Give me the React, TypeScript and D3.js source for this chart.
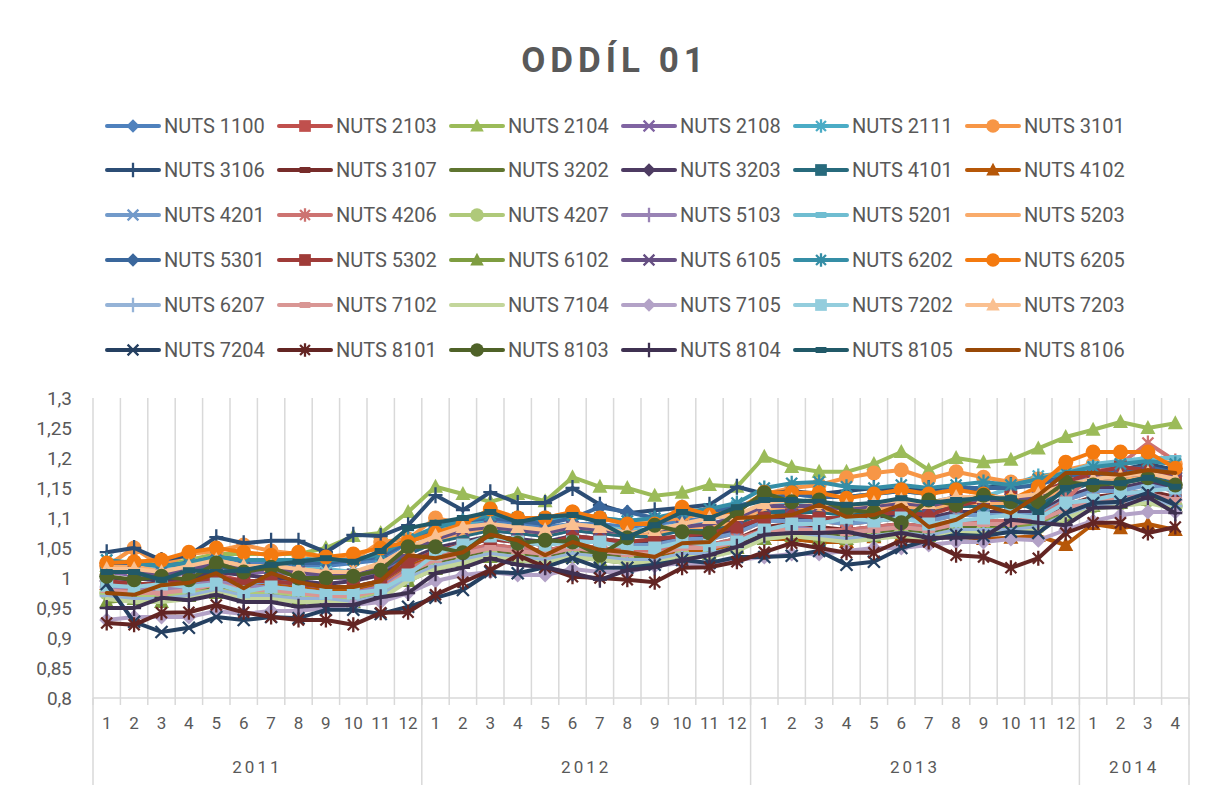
import React from "react";
import * as d3 from "d3";

// category axis
const monthTicks = ["1","2","3","4","5","6","7","8","9","10","11","12",
  "1","2","3","4","5","6","7","8","9","10","11","12",
  "1","2","3","4","5","6","7","8","9","10","11","12",
  "1","2","3","4"];
const yearLabels = ["2011", "2012", "2013", "2014"];
const yearMonths = [12, 12, 12, 4];
const yTicks = [0.8, 0.85, 0.9, 0.95, 1, 1.05, 1.1, 1.15, 1.2, 1.25, 1.3];

const seriesNames = [
  "NUTS 1100","NUTS 2103","NUTS 2104","NUTS 2108","NUTS 2111","NUTS 3101",
  "NUTS 3106","NUTS 3107","NUTS 3202","NUTS 3203","NUTS 4101","NUTS 4102",
  "NUTS 4201","NUTS 4206","NUTS 4207","NUTS 5103","NUTS 5201","NUTS 5203",
  "NUTS 5301","NUTS 5302","NUTS 6102","NUTS 6105","NUTS 6202","NUTS 6205",
  "NUTS 6207","NUTS 7102","NUTS 7104","NUTS 7105","NUTS 7202","NUTS 7203",
  "NUTS 7204","NUTS 8101","NUTS 8103","NUTS 8104","NUTS 8105","NUTS 8106",
];
const seriesColors = [
  "#4F81BD","#C0504D","#9BBB59","#8064A2","#4BACC6","#F79646",
  "#2C4D75","#772C2A","#5F7530","#4D3B62","#276A7C","#B65708",
  "#729ACA","#CD7371","#AFC97A","#9983B5","#6FBDD1","#F9AB6B",
  "#3A679C","#9F3B38","#7E9D40","#664F83","#358EA6","#F47A0F",
  "#95B3D7","#D99694","#C3D69B","#B3A2C7","#93CDDD","#FAC090",
  "#254061","#632523","#4F6228","#3F3151","#215968","#984807",
];
const seriesMarkers = [
  "diamond","square","triangle","x","star","circle",
  "plus","dash","none","diamond","square","triangle",
  "x","star","circle","plus","dash","none",
  "diamond","square","triangle","x","star","circle",
  "plus","dash","none","diamond","square","triangle",
  "x","star","circle","plus","dash","none",
];

const nuts1100 = [1.02,1.02,1.015,1.02,1.03,1.025,1.025,1.02,1.02,1.025,1.03,1.06, 1.08,1.09,1.095,1.09,1.085,1.09,1.09,1.085,1.09,1.095,1.1,1.105, 1.12,1.125,1.12,1.12,1.125,1.13,1.125,1.135,1.13,1.135,1.14,1.16, 1.17,1.175,1.18,1.17];
const nuts2103 = [1.0,0.99,0.99,0.995,1.005,0.995,0.995,0.99,0.985,0.985,0.995,1.025, 1.045,1.055,1.065,1.06,1.055,1.065,1.06,1.055,1.055,1.065,1.065,1.075, 1.095,1.1,1.095,1.09,1.095,1.1,1.095,1.105,1.105,1.105,1.11,1.13, 1.145,1.15,1.155,1.145];
const nuts2104 = [1.02,1.03,1.02,1.03,1.04,1.04,1.04,1.04,1.05,1.07,1.075,1.11, 1.152,1.14,1.127,1.14,1.128,1.168,1.152,1.15,1.137,1.142,1.155,1.152, 1.202,1.185,1.177,1.177,1.19,1.21,1.18,1.2,1.193,1.197,1.216,1.235, 1.247,1.26,1.25,1.258];
const nuts2108 = [1.01,1.005,1.0,1.01,1.02,1.01,1.01,1.005,1.0,1.0,1.01,1.04, 1.06,1.075,1.08,1.075,1.07,1.08,1.075,1.07,1.07,1.08,1.08,1.09, 1.11,1.115,1.11,1.11,1.115,1.12,1.115,1.12,1.125,1.12,1.125,1.145, 1.16,1.165,1.17,1.16];
const nuts2111 = [1.03,1.02,1.02,1.025,1.035,1.03,1.03,1.03,1.035,1.03,1.035,1.06, 1.08,1.09,1.1,1.1,1.095,1.1,1.1,1.095,1.1,1.105,1.11,1.12, 1.13,1.14,1.135,1.135,1.14,1.145,1.14,1.15,1.15,1.155,1.17,1.175, 1.185,1.19,1.195,1.19];
const nuts3101 = [1.02,1.05,1.02,1.04,1.045,1.055,1.045,1.04,1.035,1.03,1.06,1.065, 1.1,1.09,1.11,1.1,1.1,1.11,1.1,1.09,1.095,1.1,1.11,1.115, 1.14,1.15,1.155,1.167,1.175,1.18,1.165,1.177,1.168,1.16,1.165,1.18, 1.19,1.19,1.2,1.19];
const nuts3106 = [1.043,1.05,1.03,1.038,1.068,1.058,1.062,1.062,1.043,1.072,1.07,1.088, 1.138,1.113,1.143,1.125,1.125,1.15,1.122,1.108,1.113,1.117,1.122,1.152, 1.14,1.145,1.14,1.145,1.15,1.145,1.15,1.145,1.15,1.155,1.16,1.17, 1.175,1.18,1.19,1.18];
const nuts3107 = [0.985,0.98,0.98,0.985,0.995,0.985,0.985,0.98,0.975,0.975,0.985,1.015, 1.035,1.045,1.055,1.05,1.045,1.055,1.05,1.045,1.045,1.055,1.055,1.065, 1.085,1.09,1.085,1.08,1.085,1.09,1.085,1.095,1.095,1.095,1.1,1.12, 1.135,1.14,1.145,1.135];
const nuts3202 = [0.975,0.97,0.97,0.975,0.985,0.975,0.975,0.97,0.97,0.965,0.975,1.005, 1.025,1.035,1.045,1.04,1.035,1.045,1.04,1.035,1.035,1.045,1.045,1.055, 1.075,1.08,1.075,1.07,1.075,1.08,1.075,1.085,1.085,1.085,1.09,1.11, 1.125,1.13,1.135,1.125];
const nuts3203 = [0.995,1.0,0.995,1.0,1.01,1.005,1.0,0.995,0.99,0.995,1.005,1.03, 1.05,1.06,1.07,1.065,1.06,1.07,1.065,1.06,1.06,1.07,1.07,1.08, 1.1,1.1,1.1,1.095,1.1,1.105,1.1,1.11,1.11,1.11,1.11,1.135, 1.15,1.15,1.16,1.15];
const nuts4101 = [1.01,1.015,1.01,1.015,1.02,1.015,1.015,1.01,1.005,1.005,1.015,1.04, 1.06,1.07,1.08,1.075,1.07,1.08,1.075,1.07,1.07,1.08,1.08,1.09, 1.11,1.11,1.11,1.105,1.11,1.115,1.11,1.12,1.12,1.12,1.12,1.145, 1.16,1.16,1.17,1.16];
const nuts4102 = [0.99,0.985,0.985,0.99,1.0,0.99,0.99,0.985,0.98,0.98,0.99,1.02, 1.035,1.04,1.05,1.045,1.04,1.05,1.045,1.04,1.04,1.045,1.045,1.05, 1.065,1.065,1.06,1.06,1.068,1.07,1.065,1.07,1.065,1.067,1.07,1.055, 1.09,1.083,1.09,1.08];
const nuts4201 = [0.995,0.99,0.985,0.99,1.0,0.99,0.995,0.99,0.985,0.985,0.995,1.025, 1.045,1.055,1.065,1.06,1.055,1.065,1.06,1.055,1.055,1.065,1.065,1.075, 1.095,1.095,1.095,1.09,1.095,1.1,1.095,1.105,1.105,1.105,1.105,1.13, 1.145,1.145,1.155,1.145];
const nuts4206 = [0.985,0.98,0.975,0.98,0.99,0.985,0.985,0.98,0.975,0.975,0.985,1.015, 1.035,1.045,1.055,1.05,1.045,1.055,1.05,1.045,1.045,1.055,1.055,1.065, 1.08,1.085,1.08,1.08,1.085,1.09,1.085,1.095,1.095,1.095,1.1,1.13, 1.175,1.19,1.225,1.195];
const nuts4207 = [0.975,0.97,0.97,0.975,0.98,0.975,0.975,0.97,0.965,0.965,0.975,1.0, 1.02,1.03,1.04,1.035,1.03,1.04,1.035,1.03,1.03,1.04,1.04,1.05, 1.07,1.075,1.07,1.065,1.07,1.075,1.07,1.08,1.08,1.08,1.085,1.1, 1.12,1.125,1.13,1.12];
const nuts5103 = [0.985,0.985,0.98,0.985,0.995,0.985,0.985,0.98,0.975,0.975,0.985,1.01, 1.03,1.04,1.05,1.045,1.04,1.05,1.045,1.04,1.04,1.05,1.05,1.06, 1.08,1.085,1.08,1.075,1.08,1.085,1.08,1.09,1.09,1.09,1.095,1.115, 1.13,1.135,1.14,1.13];
const nuts5201 = [1.02,1.015,1.015,1.02,1.03,1.02,1.02,1.015,1.015,1.01,1.02,1.05, 1.07,1.08,1.09,1.085,1.08,1.09,1.085,1.08,1.08,1.09,1.09,1.1, 1.12,1.125,1.12,1.115,1.12,1.125,1.12,1.13,1.135,1.15,1.165,1.175, 1.19,1.195,1.2,1.2];
const nuts5203 = [1.02,1.02,1.01,1.02,1.03,1.02,1.02,1.015,1.01,1.01,1.02,1.05, 1.065,1.075,1.085,1.08,1.075,1.085,1.08,1.075,1.075,1.085,1.085,1.095, 1.115,1.12,1.115,1.11,1.115,1.12,1.115,1.125,1.125,1.125,1.13,1.15, 1.165,1.165,1.175,1.165];
const nuts5301 = [1.025,1.025,1.02,1.025,1.035,1.03,1.03,1.025,1.025,1.03,1.035,1.06, 1.085,1.095,1.1,1.095,1.09,1.1,1.118,1.11,1.1,1.105,1.11,1.12, 1.13,1.14,1.135,1.135,1.14,1.145,1.14,1.15,1.15,1.15,1.155,1.17, 1.175,1.18,1.185,1.175];
const nuts5302 = [0.995,0.99,0.99,0.995,1.0,0.995,0.995,0.99,0.985,0.985,0.995,1.025, 1.045,1.055,1.065,1.06,1.055,1.07,1.065,1.06,1.065,1.07,1.075,1.085, 1.1,1.105,1.1,1.1,1.105,1.11,1.105,1.12,1.13,1.135,1.14,1.16, 1.175,1.185,1.18,1.17];
const nuts6102 = [0.96,0.965,0.96,0.97,0.975,0.97,0.97,0.965,0.96,0.96,0.97,0.995, 1.015,1.025,1.035,1.03,1.025,1.035,1.03,1.025,1.03,1.035,1.04,1.05, 1.065,1.07,1.065,1.065,1.07,1.075,1.07,1.08,1.08,1.085,1.09,1.105, 1.12,1.125,1.13,1.12];
const nuts6105 = [1.015,1.01,1.005,1.015,1.025,1.015,1.015,1.01,1.005,1.005,1.015,1.045, 1.065,1.08,1.085,1.08,1.075,1.085,1.08,1.075,1.08,1.085,1.09,1.1, 1.12,1.12,1.12,1.115,1.12,1.125,1.12,1.13,1.13,1.13,1.135,1.155, 1.165,1.17,1.175,1.165];
const nuts6202 = [1.03,1.025,1.02,1.025,1.035,1.03,1.03,1.03,1.03,1.03,1.04,1.065, 1.085,1.095,1.105,1.1,1.1,1.105,1.1,1.095,1.1,1.11,1.115,1.125, 1.15,1.158,1.16,1.152,1.15,1.155,1.15,1.155,1.16,1.155,1.165,1.175, 1.185,1.19,1.195,1.19];
const nuts6205 = [1.025,1.027,1.03,1.043,1.05,1.043,1.038,1.043,1.035,1.04,1.05,1.06, 1.075,1.09,1.115,1.1,1.1,1.11,1.1,1.09,1.09,1.118,1.105,1.11, 1.143,1.142,1.142,1.133,1.14,1.147,1.14,1.147,1.14,1.13,1.152,1.193, 1.21,1.21,1.21,1.183];
const nuts6207 = [0.97,0.965,0.965,0.97,0.98,0.97,0.97,0.965,0.965,0.96,0.97,1.0, 1.02,1.03,1.04,1.035,1.03,1.04,1.035,1.03,1.03,1.04,1.04,1.05, 1.07,1.075,1.07,1.065,1.07,1.075,1.07,1.08,1.08,1.08,1.085,1.105, 1.12,1.125,1.13,1.12];
const nuts7102 = [0.98,0.975,0.975,0.98,0.99,0.98,0.98,0.975,0.97,0.97,0.98,1.01, 1.03,1.04,1.05,1.045,1.04,1.05,1.045,1.04,1.04,1.05,1.05,1.06, 1.08,1.08,1.08,1.075,1.08,1.085,1.08,1.09,1.09,1.09,1.095,1.115, 1.13,1.13,1.14,1.13];
const nuts7104 = [0.965,0.96,0.96,0.965,0.975,0.965,0.965,0.96,0.96,0.955,0.965,0.995, 1.015,1.025,1.035,1.03,1.025,1.035,1.03,1.025,1.025,1.035,1.035,1.045, 1.065,1.07,1.065,1.06,1.065,1.07,1.065,1.075,1.075,1.075,1.08,1.1, 1.115,1.12,1.125,1.115];
const nuts7105 = [0.93,0.935,0.935,0.935,0.945,0.94,0.945,0.945,0.95,0.955,0.96,0.975, 0.995,1.005,1.01,1.005,1.005,1.015,1.01,1.01,1.02,1.025,1.02,1.03, 1.035,1.04,1.04,1.045,1.05,1.05,1.055,1.06,1.06,1.065,1.063,1.08, 1.095,1.105,1.11,1.11];
const nuts7202 = [0.988,0.985,0.99,0.985,0.99,0.977,0.985,0.98,0.975,0.975,0.98,1.005, 1.04,1.055,1.07,1.06,1.055,1.06,1.06,1.05,1.05,1.06,1.055,1.06, 1.08,1.09,1.09,1.1,1.095,1.1,1.09,1.095,1.1,1.105,1.1,1.125, 1.13,1.14,1.145,1.15];
const nuts7203 = [1.015,1.015,1.01,1.02,1.03,1.02,1.02,1.015,1.01,1.01,1.025,1.05, 1.07,1.085,1.09,1.085,1.08,1.09,1.085,1.075,1.08,1.09,1.1,1.105, 1.125,1.13,1.125,1.12,1.125,1.13,1.125,1.135,1.135,1.135,1.14,1.155, 1.165,1.17,1.175,1.165];
const nuts7204 = [0.99,0.927,0.91,0.917,0.935,0.93,0.935,0.933,0.947,0.947,0.94,0.952, 0.967,0.98,1.01,1.008,1.018,1.033,1.017,1.017,1.022,1.03,1.025,1.035, 1.035,1.037,1.045,1.022,1.027,1.05,1.063,1.072,1.07,1.077,1.075,1.108, 1.125,1.127,1.142,1.122];
const nuts8101 = [0.925,0.922,0.942,0.943,0.955,0.943,0.935,0.93,0.93,0.922,0.942,0.943, 0.972,0.993,1.013,1.038,1.018,1.002,1.0,0.997,0.993,1.017,1.018,1.027, 1.043,1.058,1.05,1.042,1.042,1.063,1.06,1.038,1.035,1.017,1.033,1.075, 1.092,1.092,1.075,1.085];
const nuts8103 = [1.003,0.997,1.003,0.997,1.025,1.01,1.018,1.0,1.0,1.003,1.013,1.052, 1.052,1.042,1.077,1.058,1.063,1.06,1.038,1.067,1.088,1.077,1.075,1.11, 1.142,1.127,1.13,1.113,1.11,1.092,1.13,1.122,1.138,1.127,1.127,1.16, 1.155,1.158,1.167,1.155];
const nuts8104 = [0.95,0.95,0.967,0.963,0.972,0.96,0.96,0.952,0.955,0.955,0.968,0.975, 1.008,1.017,1.033,1.022,1.018,1.008,0.997,1.013,1.018,1.03,1.038,1.052, 1.072,1.075,1.075,1.077,1.068,1.075,1.067,1.067,1.068,1.097,1.092,1.088, 1.117,1.118,1.135,1.108];
const nuts8105 = [1.01,1.01,0.997,1.013,1.01,1.013,1.022,1.027,1.033,1.027,1.045,1.083, 1.092,1.1,1.11,1.093,1.102,1.105,1.093,1.068,1.088,1.11,1.1,1.118, 1.13,1.13,1.127,1.122,1.125,1.133,1.125,1.13,1.133,1.133,1.11,1.15, 1.16,1.158,1.167,1.152];
const nuts8106 = [0.975,0.972,0.988,0.992,1.008,0.983,1.008,0.993,0.985,0.985,0.995,1.038, 1.033,1.043,1.072,1.063,1.038,1.06,1.047,1.043,1.035,1.058,1.06,1.1, 1.102,1.105,1.122,1.102,1.105,1.122,1.085,1.097,1.122,1.108,1.138,1.175, 1.175,1.172,1.18,1.175];

const seriesValues = [
  nuts1100, nuts2103, nuts2104, nuts2108, nuts2111, nuts3101,
  nuts3106, nuts3107, nuts3202, nuts3203, nuts4101, nuts4102,
  nuts4201, nuts4206, nuts4207, nuts5103, nuts5201, nuts5203,
  nuts5301, nuts5302, nuts6102, nuts6105, nuts6202, nuts6205,
  nuts6207, nuts7102, nuts7104, nuts7105, nuts7202, nuts7203,
  nuts7204, nuts8101, nuts8103, nuts8104, nuts8105, nuts8106,
];

const W = 1209;
const H = 785;
const plot = { left: 93, right: 1189, top: 398, bottom: 698 };
const textColor = "#595959";
const gridColor = "#d9d9d9";
const font = "Roboto, 'Liberation Sans', sans-serif";

const czLocale = d3.formatLocale({ decimal: ",", thousands: " ", grouping: [3], currency: ["", ""] });
const fmtY = czLocale.format("~g");

function Marker({ type, x, y, color, s = 1 }: { type: string; x: number; y: number; color: string; s?: number }) {
  const d = 7.5 * s;
  switch (type) {
    case "diamond":
      return <path d={`M${x},${y - d}L${x + d},${y}L${x},${y + d}L${x - d},${y}Z`} fill={color} />;
    case "square":
      return <rect x={x - 6.5 * s} y={y - 6.5 * s} width={13 * s} height={13 * s} fill={color} />;
    case "triangle":
      return <path d={`M${x},${y - 8 * s}L${x + 7.5 * s},${y + 6 * s}L${x - 7.5 * s},${y + 6 * s}Z`} fill={color} />;
    case "x":
      return <path d={`M${x - 6 * s},${y - 6 * s}L${x + 6 * s},${y + 6 * s}M${x + 6 * s},${y - 6 * s}L${x - 6 * s},${y + 6 * s}`} stroke={color} strokeWidth={2.3} />;
    case "star":
      return <path d={`M${x - 5.5 * s},${y - 5.5 * s}L${x + 5.5 * s},${y + 5.5 * s}M${x + 5.5 * s},${y - 5.5 * s}L${x - 5.5 * s},${y + 5.5 * s}M${x},${y - 7.5 * s}L${x},${y + 7.5 * s}`} stroke={color} strokeWidth={2.3} />;
    case "circle":
      return <circle cx={x} cy={y} r={7.5 * s} fill={color} />;
    case "plus":
      return <path d={`M${x - 7 * s},${y}L${x + 7 * s},${y}M${x},${y - 8 * s}L${x},${y + 8 * s}`} stroke={color} strokeWidth={2.3} />;
    case "dash":
      return <rect x={x - 6 * s} y={y - 3} width={12 * s} height={6} fill={color} />;
    default:
      return null;
  }
}

export default function App() {
  const x = d3.scaleBand<number>().domain(d3.range(monthTicks.length)).range([plot.left, plot.right]).padding(0);
  const bw = x.bandwidth();
  const cx = (i: number) => (x(i) as number) + bw / 2;
  const y = d3.scaleLinear().domain([0.8, 1.3]).range([plot.bottom, plot.top]);

  const lineGen = d3.line<number>().x((_, i) => cx(i)).y((d) => y(d));

  // year group boundaries
  const yearStarts: number[] = [];
  let acc = 0;
  yearMonths.forEach((m) => { yearStarts.push(acc); acc += m; });

  const legendX0 = 107;
  const legendPitch = 172;
  const legendRowY = [126, 170, 215, 260, 305, 350];

  return (
    <div style={{ position: "absolute", left: 0, top: 0 }}>
      <svg width={W} height={H} style={{ display: "block", background: "#fff" }} fontFamily={font}>
        <text x={615} y={72} textAnchor="middle" fontSize={35} fontWeight="bold" letterSpacing={5} fill={textColor}>
          ODDÍL 01
        </text>

        {/* legend */}
        {seriesNames.map((name, k) => {
          const col = k % 6;
          const row = Math.floor(k / 6);
          const lx = legendX0 + col * legendPitch;
          const ly = legendRowY[row];
          return (
            <g key={name}>
              <line x1={lx} x2={lx + 52} y1={ly} y2={ly} stroke={seriesColors[k]} strokeWidth={4} strokeLinecap="round" />
              <Marker type={seriesMarkers[k]} x={lx + 26} y={ly} color={seriesColors[k]} s={0.9} />
              <text x={lx + 57} y={ly + 7} fontSize={20} fill={textColor}>{name}</text>
            </g>
          );
        })}

        {/* vertical gridlines */}
        {d3.range(monthTicks.length + 1).map((i) => {
          const gx = plot.left + i * bw;
          return <line key={"g" + i} x1={gx} x2={gx} y1={plot.top} y2={plot.bottom} stroke={gridColor} strokeWidth={1.5} />;
        })}

        {/* y axis labels */}
        {yTicks.map((t) => (
          <text key={"y" + t} x={72} y={y(t) + 7} textAnchor="end" fontSize={19} fill={textColor}>{fmtY(t)}</text>
        ))}

        {/* x axis */}
        <line x1={plot.left} x2={plot.right} y1={plot.bottom} y2={plot.bottom} stroke={gridColor} strokeWidth={1.5} />
        {d3.range(monthTicks.length + 1).map((i) => {
          const gx = plot.left + i * bw;
          return <line key={"t" + i} x1={gx} x2={gx} y1={plot.bottom} y2={plot.bottom + 7} stroke={gridColor} strokeWidth={1.5} />;
        })}
        {[...yearStarts, monthTicks.length].map((s, i) => {
          const gx = plot.left + s * bw;
          return <line key={"ys" + i} x1={gx} x2={gx} y1={plot.bottom} y2={H} stroke={gridColor} strokeWidth={1.5} />;
        })}
        {monthTicks.map((m, i) => (
          <text key={"m" + i} x={cx(i)} y={729} textAnchor="middle" fontSize={17} fill={textColor}>{m}</text>
        ))}
        {yearLabels.map((yl, i) => {
          const mid = plot.left + (yearStarts[i] + yearMonths[i] / 2) * bw;
          return (
            <text key={yl} x={mid} y={773} textAnchor="middle" fontSize={17} letterSpacing={3} fill={textColor}>{yl}</text>
          );
        })}

        {/* series */}
        {seriesValues.map((vals, k) => (
          <g key={"s" + k}>
            <path d={lineGen(vals) || ""} fill="none" stroke={seriesColors[k]} strokeWidth={4} strokeLinejoin="round" strokeLinecap="round" />
            {vals.map((v, i) => (
              <Marker key={i} type={seriesMarkers[k]} x={cx(i)} y={y(v)} color={seriesColors[k]} />
            ))}
          </g>
        ))}
      </svg>
    </div>
  );
}
